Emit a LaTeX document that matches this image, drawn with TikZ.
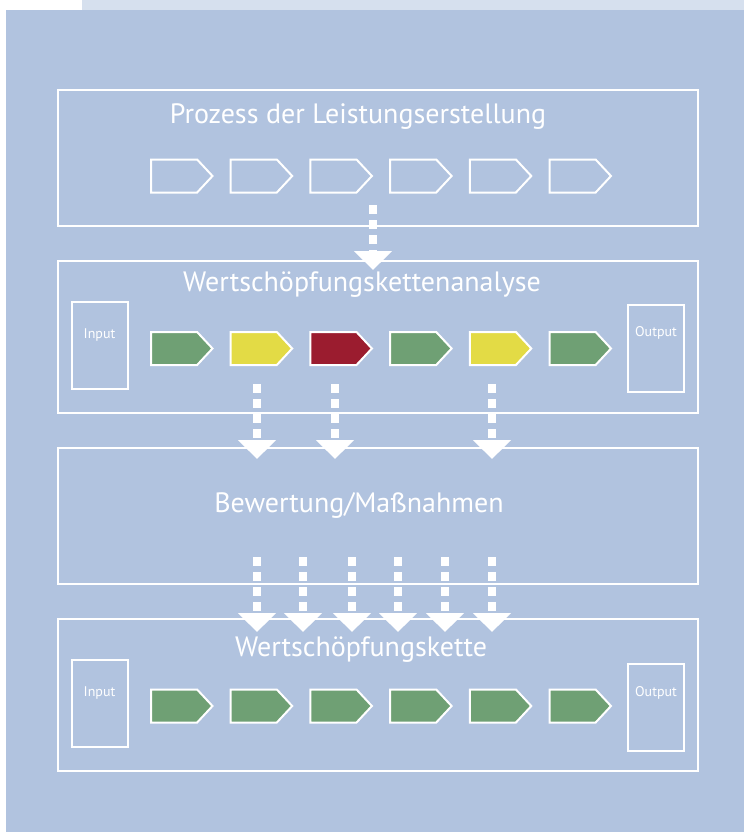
\documentclass[tikz,border=0pt]{standalone}
\usepackage{fontspec}
\setsansfont{PT Sans}
\usetikzlibrary{positioning,calc,matrix
  ,shapes.symbols,arrows.meta}
\definecolor{mypanel}{RGB}{177,195,223}
\definecolor{mystrip}{RGB}{214,224,238}
\definecolor{mygreen}{RGB}{111,160,116}
\definecolor{myyellow}{RGB}{227,219,69}
\definecolor{myred}{RGB}{155,28,47}
\pgfdeclarelayer{background}
\pgfsetlayers{background,main}
\tikzset{
tikzchainpic/.style={
  x=1pt,y=-1pt
    ,inner sep=0pt
    ,outer sep=0pt
}
,stage/.style={draw=white,line width=2pt,minimum width=640pt}
,stagetitle/.style={font={\sffamily\fontsize{28}{32}\selectfont\color{white}}}
,iobox/.style={draw=white,line width=2pt
  ,minimum width=56pt,minimum height=87pt}
,iotext/.style={font={\sffamily\fontsize{14}{16}\selectfont\color{white}}}
,chev/.style={
  shape=signal, signal to=east, signal pointer angle=94,
  draw=white, line width=2pt,
  minimum width=61.5pt,
  minimum height=33pt
}
,plainchev/.style={chev}
,greenchev/.style={chev,fill=mygreen}
,yellowchev/.style={chev,fill=myyellow}
,redchev/.style={chev,fill=myred}
,chevrow/.style={column sep=16.2pt, row sep=0pt}
,flow/.style={draw=white,line width=8pt,dash pattern=on 9pt off 6pt
  ,-{Triangle[width=37pt,length=19pt]}}
}

\begin{document}
\begin{tikzpicture}[tikzchainpic]
  \useasboundingbox (0,0) rectangle (744,832);
  \begin{pgfonlayer}{background}
    \fill[mypanel] (6,10) rectangle (744,832);
    \fill[mystrip] (82,0) rectangle (744,10);
  \end{pgfonlayer}
  % process
  \node[stage,minimum height=136pt] (prozess) at (378,158) {};
  \node[stagetitle] (prozesstitle) at (358,117) {Prozess der Leistungserstellung};
  \matrix[chevrow] (procrow) at (381,176) {
    \node[plainchev] (proc1) {}; & \node[plainchev] (proc2) {}; &
    \node[plainchev] (proc3) {}; & \node[plainchev] (proc4) {}; &
    \node[plainchev] (proc5) {}; & \node[plainchev] (proc6) {}; \\
  };
  % analysis
  \node[stage,minimum height=152pt] (analyse) at (378,337) {};
  \node[stagetitle] (analysetitle) at (362,285) {Wertschöpfungskettenanalyse};
  \node[iobox] (anain) at (99.5,345.5) {};
  \node[iotext] (anaintext) at ($(anain.north)+(0,33)$) {Input};
  \node[iobox] (anaout) at (656,348.5) {};
  \node[iotext] (anaouttext) at ($(anaout.north)+(0,28)$) {Output};
  \matrix[chevrow] (anarow) at (381,348.5) {
    \node[greenchev] (ana1) {}; & \node[yellowchev] (ana2) {}; &
    \node[redchev] (ana3) {}; & \node[greenchev] (ana4) {}; &
    \node[yellowchev] (ana5) {}; & \node[greenchev] (ana6) {}; \\
  };
  % rating
  \node[stage,minimum height=136pt] (bewertung) at (378,516) {};
  \node[stagetitle] (bewertungtitle) at (359,505) {Bewertung/Maßnahmen};
  % chain
  \node[stage,minimum height=152pt] (kette) at (378,695) {};
  \node[stagetitle] (kettetitle) at (361,650) {Wertschöpfungskette};
  \node[iobox] (kettein) at (99.5,703.5) {};
  \node[iotext] (ketteintext) at ($(kettein.north)+(0,33)$) {Input};
  \node[iobox] (ketteout) at (656,707) {};
  \node[iotext] (ketteouttext) at ($(ketteout.north)+(0,29)$) {Output};
  \matrix[chevrow] (ketterow) at (381,706) {
    \node[greenchev] (kette1) {}; & \node[greenchev] (kette2) {}; &
    \node[greenchev] (kette3) {}; & \node[greenchev] (kette4) {}; &
    \node[greenchev] (kette5) {}; & \node[greenchev] (kette6) {}; \\
  };
  % flows
  \coordinate (pa) at (373,205); \coordinate (pb) at (373,270);
  \draw[flow] (pa) -- (pb);
  \coordinate (a1a) at (257,384); \coordinate (a1b) at (257,459);
  \coordinate (a2a) at (335,384); \coordinate (a2b) at (335,459);
  \coordinate (a3a) at (492,384); \coordinate (a3b) at (492,459);
  \draw[flow] (a1a) -- (a1b);
  \draw[flow] (a2a) -- (a2b);
  \draw[flow] (a3a) -- (a3b);
  \coordinate (b1a) at (257,557); \coordinate (b1b) at (257,632);
  \coordinate (b2a) at (303,557); \coordinate (b2b) at (303,632);
  \coordinate (b3a) at (352,557); \coordinate (b3b) at (352,632);
  \coordinate (b4a) at (398,557); \coordinate (b4b) at (398,632);
  \coordinate (b5a) at (445,557); \coordinate (b5b) at (445,632);
  \coordinate (b6a) at (492,557); \coordinate (b6b) at (492,632);
  \draw[flow] (b1a) -- (b1b);
  \draw[flow] (b2a) -- (b2b);
  \draw[flow] (b3a) -- (b3b);
  \draw[flow] (b4a) -- (b4b);
  \draw[flow] (b5a) -- (b5b);
  \draw[flow] (b6a) -- (b6b);
\end{tikzpicture}
\end{document}
